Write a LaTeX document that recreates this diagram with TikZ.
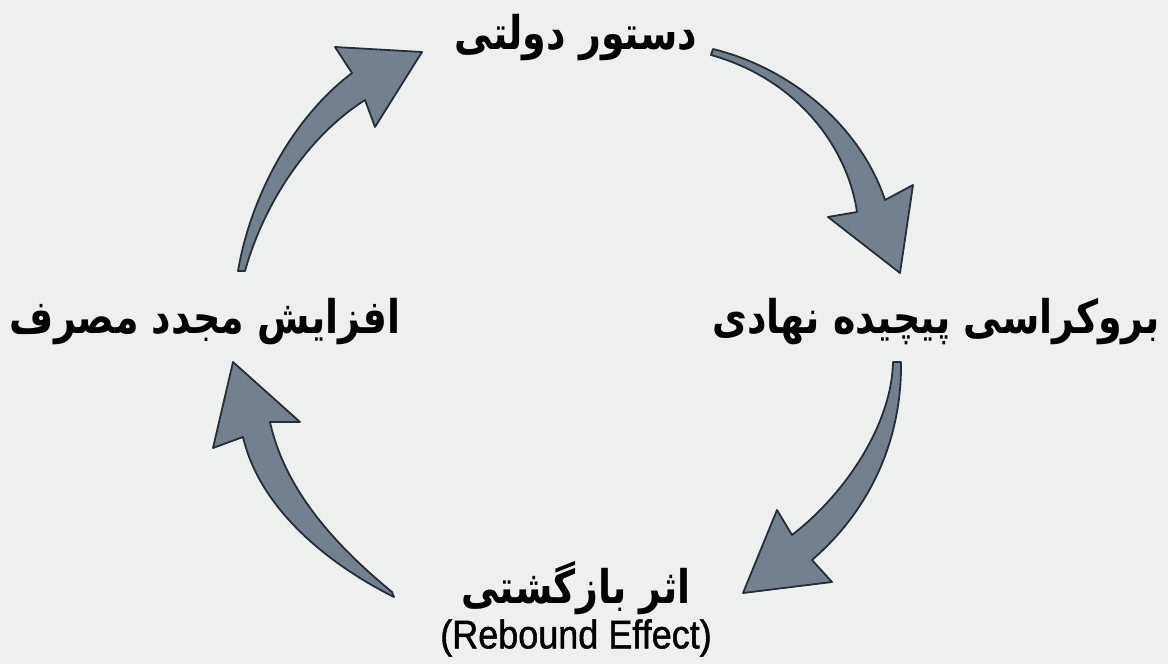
\documentclass[tikz,border=0pt]{standalone}
\usepackage{graphicx}
\usepackage{fontspec}
\TeXXeTstate=1
\newfontfamily\fa[Script=Arabic]{DejaVu Sans}
\newfontfamily\en[FakeStretch=0.9,FakeBold=1.2]{Liberation Sans}
\newcommand{\fatext}[1]{\scalebox{1}[1.22]{\beginR #1\endR}}
\definecolor{bg}{RGB}{238,240,240}
\definecolor{afill}{RGB}{116,128,142}
\definecolor{aline}{RGB}{38,46,56}
\begin{document}
\begin{tikzpicture}[x=1pt,y=-1pt,
  arr/.style={fill=afill, draw=aline, line width=1.8pt, line join=round},
  lab/.style={font=\fa\bfseries\fontsize{38}{46}\selectfont, text=black, inner sep=0pt},
  eng/.style={font=\en\fontsize{40}{46}\selectfont, text=black, inner sep=0pt}]
\fill[bg] (0,0) rectangle (1168,664);
\useasboundingbox (0,0) rectangle (1168,664);
\node[lab] (gov) at (576,38) {\fatext{دستور دولتی}};
\node[lab] (bur) at (936,322) {\fatext{بروکراسی پیچیده نهادی}};
\node[lab] (inc) at (205,322) {\fatext{افزایش مجدد مصرف}};
\node[lab] (reb) at (576,588) {\fatext{اثر بازگشتی}};
\node[eng] (rebe) at (576,638) {(Rebound Effect)};
% arrow: government -> bureaucracy
\draw[arr] (713,49) .. controls (790,68) and (860,125) .. (885,200) -- (913,185) -- (900,273) -- (828,217) -- (857,212) .. controls (848,150) and (800,80) .. (711,55) -- cycle;
% arrow: bureaucracy -> rebound
\draw[arr] (901,362) .. controls (902,440) and (870,510) .. (812,560) -- (832,582) -- (743,593) -- (777,510) -- (792,535) .. controls (850,490) and (892,420) .. (893,362) -- cycle;
% arrow: rebound -> increased consumption
\draw[arr] (394,597) .. controls (330,565) and (260,510) .. (243,437) -- (213,448) -- (233,362) -- (300,422) -- (270,422) .. controls (285,490) and (335,545) .. (392,592) -- cycle;
% arrow: increased consumption -> government
\draw[arr] (238,271) .. controls (250,200) and (290,120) .. (352,73) -- (335,47) -- (422,52) -- (375,127) -- (365,100) .. controls (310,135) and (265,200) .. (245,271) -- cycle;
\end{tikzpicture}
\end{document}
